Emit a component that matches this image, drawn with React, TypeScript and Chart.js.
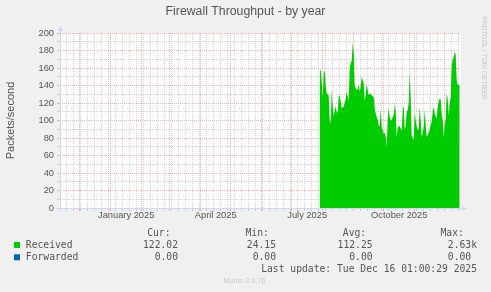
import { useEffect, useRef } from 'react';
import { Chart, registerables } from 'chart.js';

Chart.register(...registerables);

// ---- data (daily averages, packets/second) ----
const ORIGIN_DATE = '2024-11-11';
const AXIS_MIN_DAY = 0.3;
const AXIS_MAX_DAY = 400.3;
const DATA_START_DATE = '2025-07-29';
const received = [
  156, 158, 145, 125, 155, 157, 140, 131, 130, 129,
  100, 96, 135, 118, 105, 112, 116, 110, 108, 128,
  128, 122, 114, 115, 116, 120, 125, 133, 128, 122,
  160, 166, 168, 189, 178, 140, 137, 135, 136, 141,
  133, 138, 150, 146, 143, 122, 130, 141, 135, 129,
  131, 130, 129, 128, 127, 115, 108, 104, 101, 95,
  93, 114, 92, 89, 85, 86, 82, 70, 102, 114,
  104, 101, 100, 104, 107, 118, 110, 81, 92, 93,
  94, 91, 88, 110, 118, 89, 95, 110, 112, 120,
  156, 125, 83, 80, 78, 110, 100, 93, 90, 89,
  116, 100, 81, 86, 93, 112, 95, 81, 84, 86,
  90, 95, 99, 110, 116, 108, 105, 102, 115, 122,
  125, 124, 108, 100, 81, 95, 102, 131, 125, 106,
  120, 127, 162, 170, 172, 179, 175, 146, 141, 141,
  141,
];
const forwarded = received.map(() => 0);

const monthStarts = [
  '2024-12-01', '2025-01-01', '2025-02-01', '2025-03-01', '2025-04-01', '2025-05-01',
  '2025-06-01', '2025-07-01', '2025-08-01', '2025-09-01', '2025-10-01', '2025-11-01', '2025-12-01',
];
const labelMonthStarts = ['2025-01-01', '2025-04-01', '2025-07-01', '2025-10-01'];
const labelMonthEnds = ['2025-02-01', '2025-05-01', '2025-08-01', '2025-11-01'];
const xTickLabels = ['January 2025', 'April 2025', 'July 2025', 'October 2025'];

const Y_MIN = 0;
const Y_MAX = 200;
const Y_STEP = 10;
const Y_LABEL_EVERY = 20;

const legendNames = ['Received', 'Forwarded'];
const legendColors = ['#00CC00', '#0066B3'];
const legendCur = ['122.02', '0.00'];
const legendMin = ['24.15', '0.00'];
const legendAvg = ['112.25', '0.00'];
const legendMax = ['2.63k', '0.00 '];
const lastUpdate = 'Last update: Tue Dec 16 01:00:29 2025';
const TITLE = 'Firewall Throughput - by year';
const Y_TITLE = 'Packets/second';
const WATERMARK = 'RRDTOOL / TOBI OETIKER';
const VERSION = 'Munin 2.0.76';

// ---- helpers ----
const dayOf = (iso: string) =>
  (Date.parse(iso + 'T00:00:00Z') - Date.parse(ORIGIN_DATE + 'T00:00:00Z')) / 86400000;

const SANS = '"Liberation Sans", Arial, sans-serif';
const MONO = '"DejaVu Sans Mono", monospace';
const TEXT = '#555555';
const GRID_GRAY = 'rgba(150,150,150,0.4)';
const GRID_RED = 'rgba(235,70,70,0.42)';
const AXIS = '#CFD6F8';

export default function App() {
  const ref = useRef<HTMLCanvasElement | null>(null);

  useEffect(() => {
    document.body.style.margin = '0';
    const canvas = ref.current;
    if (!canvas) return;

    const startDay = dayOf(DATA_START_DATE);
    const recPts = received.map((v, i) => ({ x: startDay + i, y: v }));
    const fwdPts = forwarded.map((v, i) => ({ x: startDay + i, y: v }));

    const kinds = new Map<string, string>();
    const labelText = new Map<string, string>();
    const key = (v: number) => v.toFixed(3);
    const tickVals: number[] = [];
    const monthDays = monthStarts.map(dayOf);
    for (let d = 0; d <= AXIS_MAX_DAY; d += 7) {
      if (d < AXIS_MIN_DAY) continue;
      if (monthDays.some((m) => Math.abs(m - d) < 0.01)) continue;
      kinds.set(key(d), 'week');
      tickVals.push(d);
    }
    monthDays.forEach((d) => {
      if (d >= AXIS_MIN_DAY && d <= AXIS_MAX_DAY) {
        kinds.set(key(d), 'month');
        tickVals.push(d);
      }
    });
    xTickLabels.forEach((t, i) => {
      const d = (dayOf(labelMonthStarts[i]) + dayOf(labelMonthEnds[i])) / 2;
      kinds.set(key(d), 'label');
      labelText.set(key(d), t);
      tickVals.push(d);
    });
    tickVals.sort((a, b) => a - b);

    const xColor = (ctx: any) => {
      const v = ctx.tick ? ctx.tick.value : 0;
      const k = kinds.get(key(v));
      if (k === 'month') return GRID_RED;
      if (k === 'week') return GRID_GRAY;
      return 'rgba(0,0,0,0)';
    };
    const yColor = (ctx: any) => {
      const v = ctx.tick ? ctx.tick.value : 0;
      return v % Y_LABEL_EVERY === 0 ? GRID_RED : GRID_GRAY;
    };

    const decor = {
      id: 'decor',
      beforeDraw(chart: any) {
        const { ctx, chartArea: a } = chart;
        ctx.save();
        ctx.fillStyle = '#F0F0F0';
        ctx.fillRect(0, 0, chart.width, chart.height);
        ctx.fillStyle = '#FFFFFF';
        ctx.fillRect(a.left, a.top, a.right - a.left + 1, a.bottom - a.top);
        ctx.restore();
      },
      afterDraw(chart: any) {
        const { ctx, chartArea: a } = chart;
        ctx.save();
        // title
        ctx.fillStyle = TEXT;
        ctx.font = `12.3px ${SANS}`;
        ctx.textAlign = 'center';
        ctx.textBaseline = 'alphabetic';
        ctx.fillText(TITLE, chart.width / 2, 14.6);

        // axes
        ctx.strokeStyle = AXIS;
        ctx.fillStyle = AXIS;
        ctx.lineWidth = 1;
        const ax = Math.round(a.left) + 0.5;
        const ay = Math.round(a.bottom) + 0.5;
        ctx.beginPath();
        ctx.moveTo(ax, ay + 3);
        ctx.lineTo(ax, a.top - 2);
        ctx.moveTo(ax - 3, ay);
        ctx.lineTo(a.right + 2, ay);
        ctx.stroke();
        ctx.beginPath();
        ctx.moveTo(ax, a.top - 7);
        ctx.lineTo(ax - 2.5, a.top - 2);
        ctx.lineTo(ax + 2.5, a.top - 2);
        ctx.closePath();
        ctx.fill();
        ctx.beginPath();
        ctx.moveTo(a.right + 7, ay);
        ctx.lineTo(a.right + 2, ay - 2.5);
        ctx.lineTo(a.right + 2, ay + 2.5);
        ctx.closePath();
        ctx.fill();

        // watermark
        ctx.fillStyle = '#C8C8C8';
        ctx.font = `6.6px ${SANS}`;
        ctx.textAlign = 'center';
        ctx.textBaseline = 'middle';
        ctx.translate(484, 58);
        ctx.rotate(Math.PI / 2);
        ctx.fillText(WATERMARK, 0, 0);
        ctx.setTransform(1, 0, 0, 1, 0, 0);

        // legend
        ctx.font = `9.7px ${MONO}`;
        ctx.textBaseline = 'alphabetic';
        ctx.fillStyle = TEXT;
        ctx.textAlign = 'left';
        ctx.fillText('Cur:', 147.2, 236);
        ctx.fillText('Min:', 245.5, 236);
        ctx.fillText('Avg:', 342.8, 236);
        ctx.fillText('Max:', 440.5, 236);
        legendNames.forEach((name, i) => {
          const base = 248 + i * 12.3;
          ctx.fillStyle = legendColors[i];
          ctx.fillRect(14, base - 6, 6, 6);
          ctx.fillStyle = TEXT;
          ctx.textAlign = 'left';
          ctx.fillText(name, 25.8, base);
          ctx.textAlign = 'right';
          ctx.fillText(legendCur[i], 178, base);
          ctx.fillText(legendMin[i], 276, base);
          ctx.fillText(legendAvg[i], 372.6, base);
          ctx.fillText(legendMax[i], 477, base);
        });
        ctx.textAlign = 'right';
        ctx.fillText(lastUpdate, 477, 272.3);

        ctx.fillStyle = '#C8C8C8';
        ctx.font = `7.3px ${SANS}`;
        ctx.textAlign = 'center';
        ctx.fillText(VERSION, 244.5, 283);
        ctx.restore();
      },
    };

    const chart = new Chart(canvas, {
      type: 'line',
      data: {
        datasets: [
          {
            label: legendNames[0],
            data: recPts,
            backgroundColor: legendColors[0],
            borderWidth: 0,
            pointRadius: 0,
            fill: 'origin',
            tension: 0,
          },
          {
            label: legendNames[1],
            data: fwdPts,
            backgroundColor: legendColors[1],
            borderWidth: 0,
            pointRadius: 0,
            fill: 'origin',
            tension: 0,
          },
        ],
      },
      options: {
        responsive: false,
        animation: false,
        events: [],
        layout: { padding: { left: 0, right: 31, top: 33, bottom: 0 } },
        plugins: {
          legend: { display: false },
          tooltip: { enabled: false },
          title: { display: false },
        },
        scales: {
          x: {
            type: 'linear',
            min: AXIS_MIN_DAY,
            max: AXIS_MAX_DAY,
            afterBuildTicks: (scale: any) => {
              scale.ticks = tickVals.map((v) => ({ value: v }));
            },
            afterFit: (scale: any) => {
              scale.height = 84;
            },
            ticks: {
              autoSkip: false,
              maxRotation: 0,
              minRotation: 0,
              padding: -1.5,
              color: TEXT,
              font: { family: SANS, size: 9.3 },
              callback: (v: any) => labelText.get(key(Number(v))) || '',
            },
            grid: {
              color: xColor,
              tickColor: xColor,
              tickLength: 3,
              lineWidth: 1,
            },
            border: { display: false, dash: [1, 1] },
          },
          y: {
            type: 'linear',
            min: Y_MIN,
            max: Y_MAX,
            afterFit: (scale: any) => {
              scale.width = 60;
            },
            ticks: {
              stepSize: Y_STEP,
              autoSkip: false,
              padding: 3,
              color: TEXT,
              font: { family: SANS, size: 9.3 },
              callback: (v: any) => (Number(v) % Y_LABEL_EVERY === 0 ? String(v) : ''),
            },
            grid: {
              color: yColor,
              tickColor: yColor,
              tickLength: 3,
              lineWidth: 1,
            },
            border: { display: false, dash: [1, 1] },
            title: {
              display: true,
              text: Y_TITLE,
              color: TEXT,
              font: { family: SANS, size: 11 },
              padding: { top: 4, bottom: 0 },
            },
          },
        },
      },
      plugins: [decor],
    } as any);

    return () => chart.destroy();
  }, []);

  return (
    <div style={{ width: 491, height: 292, position: 'relative' }}>
      <canvas ref={ref} width={491} height={292} style={{ display: 'block' }} />
    </div>
  );
}
